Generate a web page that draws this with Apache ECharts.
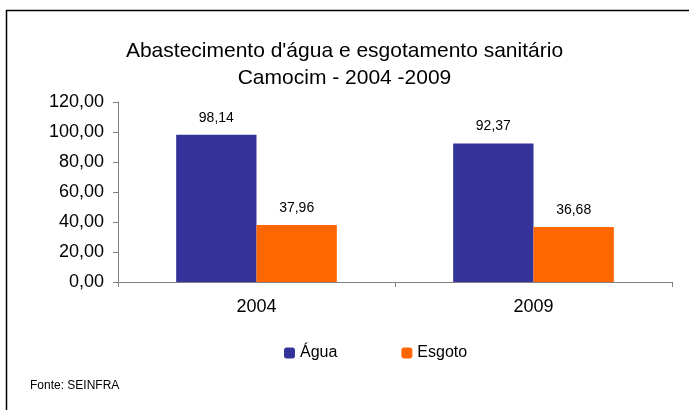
<!DOCTYPE html>
<html><head><meta charset="utf-8">
<script src="https://cdn.jsdelivr.net/npm/echarts@6/dist/echarts.min.js"></script>
<style>html,body{margin:0;padding:0;background:#fff}#c{width:689px;height:410px}</style>
</head><body><div id="c"></div>
<script>
var categories = ['2004', '2009'];
var agua = [98.14, 92.37];
var esgoto = [37.96, 36.68];
var yTicks = [0, 20, 40, 60, 80, 100, 120];
var fmt = function (v) { return Number(v).toFixed(2).replace('.', ','); };
var F = 'Liberation Sans, Arial, sans-serif';
var chart = echarts.init(document.getElementById('c'));
chart.setOption({
  animation: false,
  title: {
    text: "Abastecimento d'água e esgotamento sanitário\nCamocim - 2004 -2009",
    left: 'center', top: 33,
    textStyle: { fontFamily: F, fontSize: 21, fontWeight: 'normal', color: '#000', lineHeight: 27 }
  },
  legend: {
    bottom: 44, left: 279, itemWidth: 11, itemHeight: 11, itemGap: 64,
    textStyle: { fontFamily: F, fontSize: 16, color: '#000' },
    data: ['Água', 'Esgoto']
  },
  grid: { left: 118, right: 17, top: 102, bottom: 128 },
  xAxis: {
    type: 'category', data: categories,
    axisLine: { lineStyle: { color: '#808080', width: 1 } },
    axisTick: { show: true, alignWithLabel: false, length: 5, lineStyle: { color: '#808080' } },
    axisLabel: { fontFamily: F, fontSize: 18, color: '#000', margin: 16 }
  },
  yAxis: {
    type: 'value', min: yTicks[0], max: yTicks[yTicks.length - 1], interval: 20,
    axisLine: { show: true, lineStyle: { color: '#808080' } },
    axisTick: { show: true, length: 5, lineStyle: { color: '#808080' } },
    splitLine: { show: false },
    axisLabel: { fontFamily: F, fontSize: 18, color: '#000', margin: 14, formatter: fmt }
  },
  series: [
    { name: 'Água', type: 'bar', data: agua, barGap: '0%', barCategoryGap: '42%',
      itemStyle: { color: '#333399' },
      label: { show: true, position: 'top', distance: 10, fontFamily: F, fontSize: 14, color: '#000', formatter: function (p) { return fmt(p.value); } } },
    { name: 'Esgoto', type: 'bar', data: esgoto, barGap: '0%', barCategoryGap: '42%',
      itemStyle: { color: '#FF6600' },
      label: { show: true, position: 'top', distance: 10, fontFamily: F, fontSize: 14, color: '#000', formatter: function (p) { return fmt(p.value); } } }
  ],
  graphic: [
    { type: 'line', shape: { x1: 6, y1: 10.5, x2: 689, y2: 10.5 }, style: { stroke: '#000', lineWidth: 1.5 } },
    { type: 'line', shape: { x1: 6.5, y1: 10, x2: 6.5, y2: 410 }, style: { stroke: '#000', lineWidth: 1.5 } },
    { type: 'text', left: 30, top: 380, style: { text: 'Fonte: SEINFRA', font: '12px ' + F, fill: '#000' } }
  ]
});
</script></body></html>
